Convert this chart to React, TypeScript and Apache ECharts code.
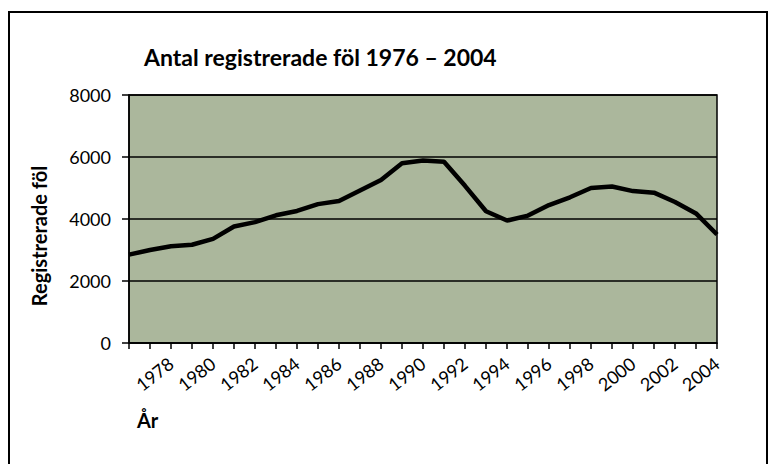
import React, { useEffect, useRef } from "react";
import * as echarts from "echarts";

const years: string[] = [
  "1976","1977","1978","1979","1980","1981","1982","1983","1984","1985",
  "1986","1987","1988","1989","1990","1991","1992","1993","1994","1995",
  "1996","1997","1998","1999","2000","2001","2002","2003","2004",
];
const foals: number[] = [
  2850, 3000, 3120, 3170, 3360, 3760, 3900, 4120, 4260, 4480,
  4580, 4920, 5260, 5800, 5890, 5850, 5070, 4250, 3950, 4110,
  4450, 4700, 5000, 5050, 4900, 4850, 4550, 4180, 3500,
];
const titleText = "Antal registrerade föl 1976 – 2004";
const yName = "Registrerade föl";
const xName = "År";

const FONT = "Lato";

export default function App() {
  const ref = useRef<HTMLDivElement>(null);
  useEffect(() => {
    if (!ref.current) return;
    const chart = echarts.init(ref.current, null, { renderer: "svg" });
    chart.setOption({
      animation: false,
      backgroundColor: "#ffffff",
      title: {
        text: titleText,
        left: 139,
        top: 40,
        textStyle: { fontFamily: FONT, fontSize: 23, fontWeight: "bold", color: "#000" },
      },
      grid: { left: 129, top: 95, right: 52, bottom: 121, containLabel: false,
        show: true, backgroundColor: "#abb79c", borderColor: "#000", borderWidth: 1.5 },
      xAxis: {
        type: "category",
        data: years,
        boundaryGap: false,
        axisLine: { lineStyle: { color: "#000", width: 1.5 } },
        axisTick: { show: true, interval: 0, length: 6, lineStyle: { color: "#000", width: 1.5 } },
        axisLabel: {
          interval: (i: number) => i > 0 && i % 2 === 0,
          rotate: 38,
          margin: 18,
          fontFamily: FONT,
          fontSize: 18,
          color: "#000",
        },
        splitLine: { show: false },
      },
      yAxis: {
        type: "value",
        min: 0,
        max: 8000,
        interval: 2000,
        axisLine: { show: true, lineStyle: { color: "#000", width: 1.5 } },
        axisTick: { show: true, length: 7, lineStyle: { color: "#000", width: 1.5 } },
        axisLabel: {
          fontFamily: FONT, fontSize: 18, color: "#000", margin: 18,
          formatter: (v: number) => String(v),
        },
        splitLine: { show: true, lineStyle: { color: "#000", width: 1.5 } },
      },
      series: [
        {
          type: "line",
          data: foals,
          symbol: "none",
          lineStyle: { color: "#000", width: 4.5 },
        },
      ],
      graphic: [
        {
          type: "rect",
          shape: { x: 9, y: 12, width: 758, height: 460 },
          style: { fill: "none", stroke: "#000", lineWidth: 2 },
          silent: true,
        },
        {
          type: "text",
          x: 39,
          y: 236,
          rotation: Math.PI / 2,
          style: {
            text: yName, fontFamily: FONT, fontSize: 20, fontWeight: "bold", fill: "#000",
            align: "center", verticalAlign: "middle",
          },
        },
        {
          type: "text",
          left: 137,
          top: 410,
          style: { text: xName, fontFamily: FONT, fontSize: 20, fontWeight: "bold", fill: "#000" },
        },
      ],
    });
    return () => chart.dispose();
  }, []);
  return (
    <div
      ref={ref}
      style={{ position: "fixed", left: 0, top: 0, width: 769, height: 464 }}
    />
  );
}
